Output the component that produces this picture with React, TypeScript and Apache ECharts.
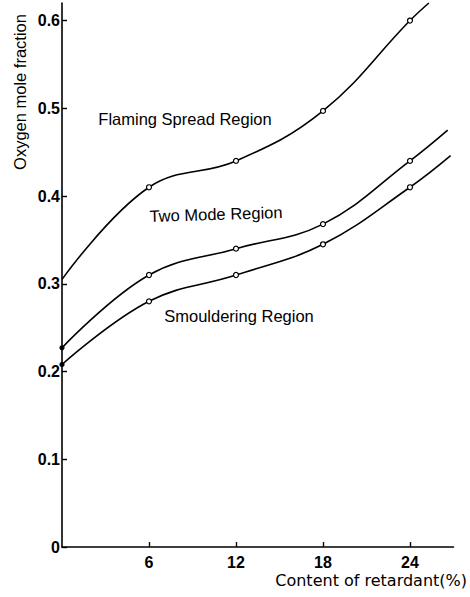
import React, { useEffect, useRef } from "react";
import * as echarts from "echarts";

// Retardant content (%) at which the boundaries were measured
const retardant = [0, 6, 12, 18, 24];
// Boundary curves: oxygen mole fraction at each measured content
const flaming = [0.305, 0.41, 0.44, 0.497, 0.6];
const twoMode = [0.227, 0.31, 0.34, 0.368, 0.44];
const smouldering = [0.208, 0.28, 0.31, 0.345, 0.41];
// Where each drawn curve runs out, beyond the last measurement
const flamingTail = [25.3, 0.62];
const twoModeTail = [26.6, 0.475];
const smoulderingTail = [26.8, 0.446];

const xTicks = [6, 12, 18, 24];
const yTicks = [0, 0.1, 0.2, 0.3, 0.4, 0.5, 0.6];

const tickFont = "'Liberation Sans Narrow', 'Liberation Sans', Arial, sans-serif";
const textFont = "'Liberation Sans', Arial, sans-serif";

function curve(name: string, values: number[], tail: number[], startDot: boolean) {
  const data: any[] = retardant.map((x, i) => {
    if (i === 0) {
      return startDot
        ? { value: [x, values[i]], symbol: "circle", symbolSize: 4, itemStyle: { color: "#000" } }
        : { value: [x, values[i]], symbol: "none" };
    }
    return [x, values[i]];
  });
  data.push({ value: tail, symbol: "none" });
  return {
    name,
    type: "line",
    data,
    smooth: 0.4,
    symbol: "circle",
    symbolSize: 5,
    showSymbol: true,
    itemStyle: { color: "#fff", borderColor: "#000", borderWidth: 1.2 },
    lineStyle: { color: "#000", width: 1.6 },
    clip: false,
    z: 3,
  };
}

export default function App() {
  const ref = useRef<HTMLDivElement>(null);

  useEffect(() => {
    if (!ref.current) return;
    const chart = echarts.init(ref.current, undefined, { renderer: "svg" });
    chart.setOption({
      animation: false,
      backgroundColor: "#fff",
      grid: { left: 62, right: 16.5, top: 3, bottom: 50 },
      xAxis: {
        type: "value",
        min: 0,
        max: 27,
        axisLine: { lineStyle: { color: "#000", width: 1.6 } },
        axisTick: { inside: true, length: 5, customValues: xTicks, lineStyle: { color: "#000", width: 1.4 } },
        axisLabel: {
          customValues: xTicks,
          color: "#000",
          fontFamily: tickFont,
          fontWeight: "bold",
          fontSize: 16,
          margin: 7,
        },
        splitLine: { show: false },
      },
      yAxis: {
        type: "value",
        min: 0,
        max: 0.62,
        axisLine: { lineStyle: { color: "#000", width: 1.6 } },
        axisTick: { inside: true, length: 5, customValues: yTicks, lineStyle: { color: "#000", width: 1.4 } },
        axisLabel: {
          customValues: yTicks,
          formatter: (v: number) => (v === 0 ? "0" : v.toFixed(1)),
          color: "#000",
          fontFamily: tickFont,
          fontWeight: "bold",
          fontSize: 16,
          margin: 2,
        },
        splitLine: { show: false },
      },
      series: [
        curve("Flaming spread boundary", flaming, flamingTail, false),
        curve("Two mode boundary", twoMode, twoModeTail, true),
        curve("Smouldering boundary", smouldering, smoulderingTail, true),
      ],
      graphic: [
        {
          type: "text",
          x: 20,
          y: 92,
          rotation: Math.PI / 2,
          style: {
            text: "Oxygen mole fraction",
            font: `16.5px ${textFont}`,
            fill: "#000",
            align: "center",
            verticalAlign: "middle",
          },
        },
        {
          type: "text",
          x: 467,
          y: 580,
          style: {
            text: "Content of retardant(%)",
            font: `16px 'DejaVu Sans', sans-serif`,
            fill: "#000",
            align: "right",
            verticalAlign: "middle",
          },
        },
        {
          type: "text",
          x: 185,
          y: 119,
          style: {
            text: "Flaming Spread Region",
            font: `16.5px ${textFont}`,
            fill: "#000",
            align: "center",
            verticalAlign: "middle",
          },
        },
        {
          type: "text",
          x: 216,
          y: 214,
          rotation: 0.03,
          style: {
            text: "Two Mode Region",
            font: `16.5px ${textFont}`,
            fill: "#000",
            align: "center",
            verticalAlign: "middle",
          },
        },
        {
          type: "text",
          x: 239,
          y: 316,
          style: {
            text: "Smouldering Region",
            font: `16.5px ${textFont}`,
            fill: "#000",
            align: "center",
            verticalAlign: "middle",
          },
        },
      ],
    });
    return () => chart.dispose();
  }, []);

  return (
    <div
      ref={ref}
      style={{ position: "fixed", left: 0, top: 0, width: 470, height: 597 }}
    />
  );
}
